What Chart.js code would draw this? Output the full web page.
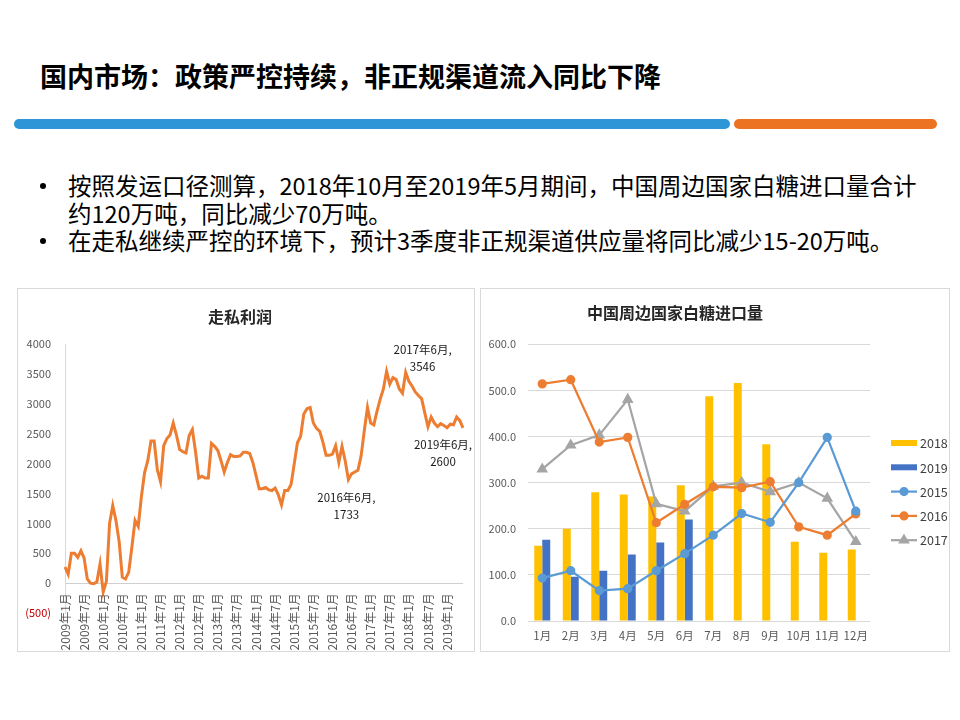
<!DOCTYPE html>
<html>
<head>
<meta charset="utf-8">
<script src="https://cdn.jsdelivr.net/npm/chart.js@4.4.1/dist/chart.umd.min.js"></script>
<style>
  body { margin: 0; width: 960px; height: 720px; background: #fff; position: relative; overflow: hidden;
         font-family: "Noto Sans CJK SC", sans-serif; color: #000; }
  .title { position: absolute; left: 40px; top: 61px; font-size: 27px; font-weight: bold; line-height: 30px; white-space: nowrap; }
  .bar { position: absolute; top: 119px; height: 10px; border-radius: 5px; }
  .bullets { position: absolute; left: 40px; top: 172px; font-size: 23.5px; line-height: 27.5px; white-space: nowrap; }
  .bullets .item { position: relative; padding-left: 28px; }
  .bullets .item::before { content: ""; position: absolute; left: 0; top: 11px; width: 6px; height: 6px; border-radius: 3px; background: #000; }
  .box { position: absolute; top: 288px; height: 364px; border: 1px solid #D9D9D9; box-sizing: border-box; }
  .box canvas { position: absolute; left: -1px; top: -1px; }
</style>
</head>
<body>
<div class="title">国内市场：政策严控持续，非正规渠道流入同比下降</div>
<div class="bar" style="left:14px;width:716px;background:#2E95D6"></div>
<div class="bar" style="left:734px;width:203px;background:#EC7322"></div>
<div class="bullets">
  <div class="item">按照发运口径测算，2018年10月至2019年5月期间，中国周边国家白糖进口量合计<br>约120万吨，同比减少70万吨。</div>
  <div class="item">在走私继续严控的环境下，预计3季度非正规渠道供应量将同比减少15-20万吨。</div>
</div>
<div class="box" style="left:17px;width:458px"><canvas id="left" width="458" height="364"></canvas></div>
<div class="box" style="left:480px;width:470px"><canvas id="right" width="470" height="364"></canvas></div>

<script>
// ---- 走私利润 (monthly, 2009年1月 - 2019年6月) ----
var monthLabels = [];
for (var yr = 2009; yr <= 2019; yr++) {
  for (var m = 1; m <= 12; m++) {
    if (yr === 2019 && m > 6) break;
    monthLabels.push(yr + '年' + m + '月');
  }
}

var profit = [
  270, 150, 500, 500, 430, 540, 420, 70, 0, -10, 20, 320,
  -150, 30, 1000, 1300, 1050, 700, 100, 70, 180, 600, 1050, 950,
  1450, 1850, 2050, 2380, 2380, 1900, 1700, 2300, 2420, 2480, 2680, 2480,
  2240, 2200, 2180, 2470, 2570, 2200, 1760, 1790, 1760, 1760, 2340, 2290,
  2220, 2050, 1860, 2020, 2150, 2120, 2120, 2130, 2190, 2190, 2170, 2020,
  1800, 1580, 1580, 1600, 1560, 1550, 1590, 1480, 1310, 1550, 1550, 1650,
  2000, 2350, 2460, 2830, 2920, 2940, 2680, 2590, 2540, 2360, 2140, 2140,
  2160, 2300, 2020, 2290, 2050, 1733, 1830, 1860, 1890, 2130, 2550, 2940,
  2680, 2650, 2880, 3080, 3250, 3546, 3330, 3440, 3410, 3250, 3180, 3530,
  3380, 3300, 3200, 3140, 3090, 2850, 2620, 2780, 2680, 2620, 2670, 2640,
  2600, 2660, 2650, 2780, 2720, 2600
];

// points that carry a data label
var notedMonths = [101, 89, 125];

// ---- 中国周边国家白糖进口量 ----
var importMonths = ['1月', '2月', '3月', '4月', '5月', '6月', '7月', '8月', '9月', '10月', '11月', '12月'];
var imp2018 = [163, 200, 279, 274, 270, 294, 487, 516, 383, 172, 148, 155];
var imp2019 = [176, 96, 109, 144, 170, 220, null, null, null, null, null, null];
var imp2015 = [93, 109, 66, 70, 109, 146, 186, 233, 214, 300, 398, 238];
var imp2016 = [514, 523, 388, 398, 213, 253, 291, 289, 302, 204, 186, 232];
var imp2017 = [329, 381, 403, 480, 254, 238, 292, 300, 280, 300, 266, 172];

var FONT = '"Noto Sans CJK SC", sans-serif';
Chart.defaults.font.family = FONT;
Chart.defaults.color = '#595959';

// data labels on the profit line
var noteOffsets = { 101: [36, -22], 89: [-2, 18], 125: [-20, 17] };
var pointNotes = {
  id: 'pointNotes',
  afterDatasetsDraw: function (chart) {
    var ctx = chart.ctx;
    var meta = chart.getDatasetMeta(0);
    ctx.save();
    ctx.font = '11.5px ' + FONT;
    ctx.fillStyle = '#1a1a1a';
    ctx.textAlign = 'center';
    ctx.textBaseline = 'middle';
    notedMonths.forEach(function (i) {
      var pt = meta.data[i];
      var off = noteOffsets[i];
      ctx.fillText(monthLabels[i] + ',', pt.x + off[0], pt.y + off[1]);
      ctx.fillText(String(profit[i]), pt.x + off[0], pt.y + off[1] + 17);
    });
    ctx.restore();
  }
};

// category labels hung just under the zero line, rotated, every 6 months
var lowLabels = {
  id: 'lowLabels',
  afterDraw: function (chart) {
    var ctx = chart.ctx, xs = chart.scales.x, ys = chart.scales.y;
    var y0 = ys.getPixelForValue(0) + 10;
    ctx.save();
    ctx.font = '12px ' + FONT;
    ctx.fillStyle = '#595959';
    ctx.textAlign = 'right';
    ctx.textBaseline = 'middle';
    monthLabels.forEach(function (lab, i) {
      if (i % 6 !== 0) return;
      ctx.save();
      ctx.translate(xs.getPixelForValue(i), y0);
      ctx.rotate(-Math.PI / 2);
      ctx.fillText(lab, 0, 0);
      ctx.restore();
    });
    ctx.restore();
  }
};

new Chart(document.getElementById('left'), {
  type: 'line',
  data: {
    labels: monthLabels,
    datasets: [{
      data: profit,
      borderColor: '#ED7D31',
      borderWidth: 3,
      pointRadius: 0,
      tension: 0,
      fill: false
    }]
  },
  options: {
    responsive: false,
    animation: false,
    layout: { padding: { right: 12 } },
    plugins: {
      legend: { display: false },
      tooltip: { enabled: false },
      title: {
        display: true, text: '走私利润', color: '#262626',
        font: { size: 16, weight: 'bold' },
        padding: { top: 19, bottom: 18 }
      }
    },
    scales: {
      x: {
        grid: { display: false },
        border: { display: false },
        ticks: { display: false },
        afterFit: function (s) { s.height = 39; }
      },
      y: {
        min: -500, max: 4000,
        // only the zero line is shown, as the category axis line
        grid: {
          drawTicks: false,
          color: function (c) { return c.tick && c.tick.value === 0 ? '#CFCFCF' : 'rgba(0,0,0,0)'; }
        },
        border: { color: '#D9D9D9' },
        ticks: {
          stepSize: 500, padding: 14, font: { size: 11 },
          color: function (c) { return c.tick && c.tick.value < 0 ? '#C00000' : '#595959'; },
          callback: function (v) { return v < 0 ? '(' + (-v) + ')' : v; }
        },
        afterFit: function (s) { s.width = 48; }
      }
    }
  },
  plugins: [pointNotes, lowLabels]
});

// legend drawn at the right of the import chart
var sideLegend = {
  id: 'sideLegend',
  afterDraw: function (chart) {
    var ctx = chart.ctx, area = chart.chartArea;
    var list = chart.data.datasets;
    var x0 = area.right + 21, gap = 24.3;
    var yc = (area.top + area.bottom) / 2 + 9;
    ctx.save();
    ctx.font = '12.5px ' + FONT;
    ctx.textBaseline = 'middle';
    list.forEach(function (ds, k) {
      var y = yc + (k - (list.length - 1) / 2) * gap;
      if (ds.type === 'bar') {
        ctx.fillStyle = ds.backgroundColor;
        ctx.fillRect(x0, y - 3, 26, 6);
      } else {
        ctx.strokeStyle = ds.borderColor;
        ctx.lineWidth = 2.25;
        ctx.beginPath(); ctx.moveTo(x0, y); ctx.lineTo(x0 + 26, y); ctx.stroke();
        Chart.helpers.drawPoint(ctx, {
          pointStyle: ds.pointStyle, radius: ds.pointRadius, borderWidth: 1, rotation: 0
        }, x0 + 13, y);
        ctx.fillStyle = ds.borderColor;
        ctx.fill();
      }
      ctx.fillStyle = '#404040';
      ctx.fillText(ds.label, x0 + 29, y + 0.5);
    });
    ctx.restore();
  }
};

new Chart(document.getElementById('right'), {
  data: {
    labels: importMonths,
    datasets: [
      { type: 'bar', label: '2018', data: imp2018, backgroundColor: '#FFC000', order: 1,
        barPercentage: 1, categoryPercentage: 0.56 },
      { type: 'bar', label: '2019', data: imp2019, backgroundColor: '#4472C4', order: 1,
        barPercentage: 1, categoryPercentage: 0.56 },
      { type: 'line', label: '2015', data: imp2015, borderColor: '#5B9BD5', backgroundColor: '#5B9BD5',
        borderWidth: 2.25, pointStyle: 'circle', pointRadius: 3.5, tension: 0, order: 0 },
      { type: 'line', label: '2016', data: imp2016, borderColor: '#ED7D31', backgroundColor: '#ED7D31',
        borderWidth: 2.25, pointStyle: 'circle', pointRadius: 3.5, tension: 0, order: 0 },
      { type: 'line', label: '2017', data: imp2017, borderColor: '#A5A5A5', backgroundColor: '#A5A5A5',
        borderWidth: 2.25, pointStyle: 'triangle', pointRadius: 4.5, tension: 0, order: 0 }
    ]
  },
  options: {
    responsive: false,
    animation: false,
    layout: { padding: { right: 80 } },
    plugins: {
      legend: { display: false },
      tooltip: { enabled: false },
      title: {
        display: true, text: '中国周边国家白糖进口量', color: '#262626',
        font: { size: 16, weight: 'bold' },
        padding: { top: 15, bottom: 22 }
      }
    },
    scales: {
      x: {
        grid: { display: false },
        border: { display: false },
        ticks: { font: { size: 11.5 }, padding: 0, autoSkip: false, minRotation: 0, maxRotation: 0 },
        afterFit: function (s) { s.height = 31; }
      },
      y: {
        min: 0, max: 600,
        grid: { color: '#D9D9D9', drawTicks: false },
        border: { display: false },
        ticks: {
          stepSize: 100, padding: 12, font: { size: 11 },
          callback: function (v) { return v.toFixed(1); }
        },
        afterFit: function (s) { s.width = 48; }
      }
    }
  },
  plugins: [sideLegend]
});
</script>
</body>
</html>
